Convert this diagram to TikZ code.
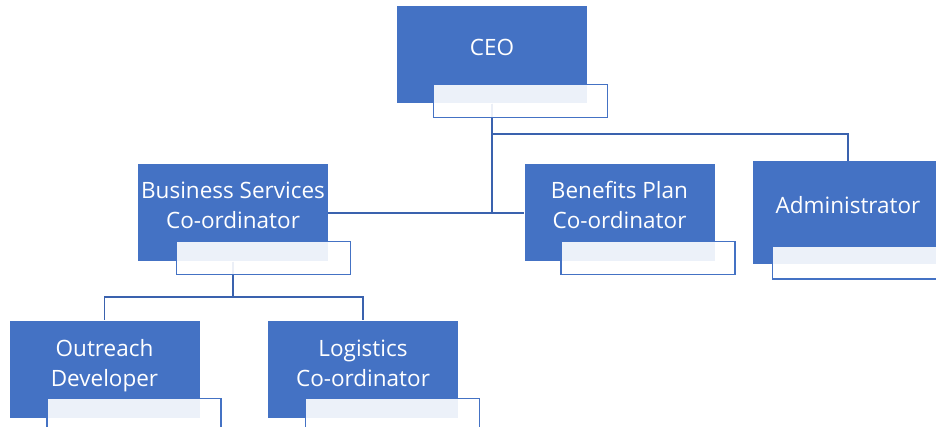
\documentclass[tikz,border=0pt]{standalone}
\usepackage{fontspec}
\setmainfont{Open Sans}
\usepackage{tikz}
\usepackage{xcolor}
\definecolor{roleblue}{HTML}{4472C4}
\definecolor{linkblue}{HTML}{3A62AE}
\tikzset{
    role-box/.style = {fill=roleblue, rectangle, inner sep=0pt, minimum width=190pt, minimum height=97pt},
    role-text/.style = {text=white, align=center, font=\fontsize{22.5}{30}\selectfont, inner sep=0pt},
    name-box/.style = {draw=roleblue, line width=1.6pt, fill=white, fill opacity=0.9, rectangle, anchor=north west, inner sep=0pt, minimum width=174pt, minimum height=33pt},
    link/.style = {draw=linkblue, line width=1.8pt},
}

\begin{document}
\begin{tikzpicture}[x=1pt, y=-1pt]
\useasboundingbox (0,0) rectangle (936,427);
\clip (0,0) rectangle (936,427);

% role boxes
\node [role-box] (ceo) at (492,55) {};
\node [role-box] (bsc) at (233,213) {};
\node [role-box] (bpc) at (619.5,213) {};
\node [role-box, minimum height=103pt] (admin) at (848,212.5) {};
\node [role-box] (outreach) at (104.5,369) {};
\node [role-box] (logistics) at (363,369) {};

% reporting lines
\draw [link] (ceo.south) |- (bsc.east);
\draw [link] (ceo.south) |- (bpc.west);
\draw [link] (ceo.south) -- ++(0,30) -| (admin.north);
\draw [link] (bsc.south) -- ++(0,35) -| (outreach.north);
\draw [link] (bsc.south) -- ++(0,35) -| (logistics.north);

% name boxes
\node [name-box] (ceo-name) at ([xshift=36pt, yshift=20pt]ceo.south west) {};
\node [name-box] (bsc-name) at ([xshift=38pt, yshift=21pt]bsc.south west) {};
\node [name-box] (bpc-name) at ([xshift=36pt, yshift=21pt]bpc.south west) {};
\node [name-box] (admin-name) at ([xshift=19pt, yshift=19pt]admin.south west) {};
\node [name-box] (outreach-name) at ([xshift=37pt, yshift=20pt]outreach.south west) {};
\node [name-box] (logistics-name) at ([xshift=37pt, yshift=20pt]logistics.south west) {};

% titles
\node [role-text] (ceo-text) at ([yshift=8pt]ceo.center) {CEO};
\node [role-text] (bsc-text) at ([yshift=7.5pt]bsc.center) {Business Services\\Co-ordinator};
\node [role-text] (bpc-text) at ([yshift=7.5pt]bpc.center) {Benefits Plan\\Co-ordinator};
\node [role-text] (admin-text) at ([yshift=7.5pt]admin.center) {Administrator};
\node [role-text] (outreach-text) at ([yshift=3pt]outreach.center) {Outreach\\Developer};
\node [role-text] (logistics-text) at ([yshift=6pt]logistics.center) {Logistics\\Co-ordinator};
\end{tikzpicture}
\end{document}
